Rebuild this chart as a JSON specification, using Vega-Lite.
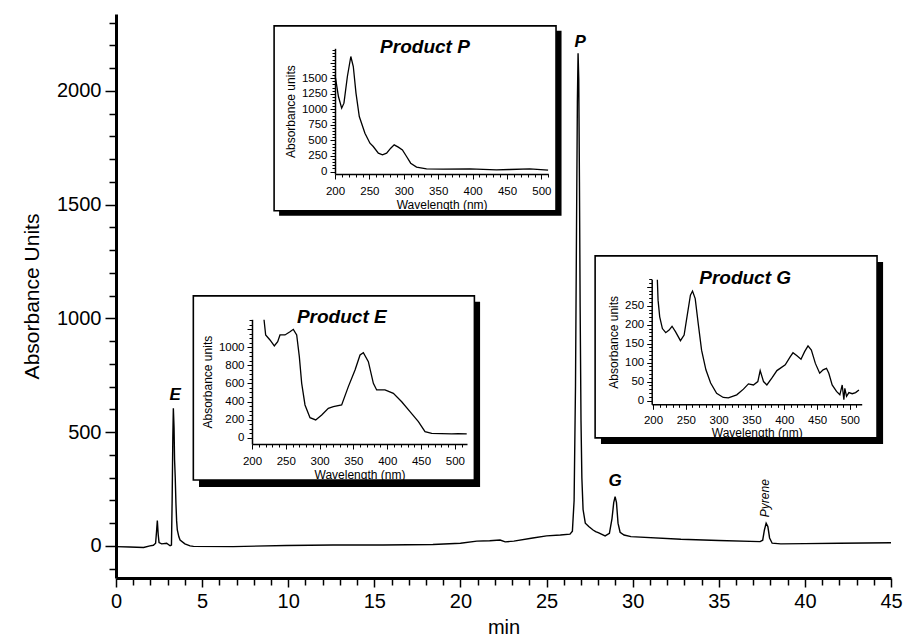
{
  "$schema": "https://vega.github.io/schema/vega-lite/v6.json",
  "width": 775,
  "height": 564,
  "autosize": {"type": "none"},
  "padding": {"left": 116, "top": 14, "right": 13, "bottom": 65},
  "background": "white",
  "config": {
    "view": {"stroke": null},
    "font": "Liberation Sans",
    "axis": {
      "grid": false,
      "domainColor": "black",
      "tickColor": "black",
      "labelColor": "black",
      "titleColor": "black",
      "labelFont": "Liberation Sans",
      "titleFont": "Liberation Sans",
      "titleFontWeight": "normal",
      "labelOverlap": false,
      "labelFlush": false,
      "labelBound": false,
      "format": "d"
    }
  },
  "datasets": {
    "chrom": [
      {"t": 0, "a": -3}, {"t": 0.8, "a": -5}, {"t": 1.6, "a": -7}, {"t": 1.97, "a": 0},
      {"t": 2.17, "a": 3}, {"t": 2.3, "a": 12}, {"t": 2.35, "a": 60}, {"t": 2.4, "a": 112},
      {"t": 2.45, "a": 50}, {"t": 2.5, "a": 15}, {"t": 2.65, "a": 9}, {"t": 2.94, "a": 12},
      {"t": 3.14, "a": 1}, {"t": 3.22, "a": 4}, {"t": 3.26, "a": 200}, {"t": 3.3, "a": 480},
      {"t": 3.33, "a": 605}, {"t": 3.37, "a": 520}, {"t": 3.4, "a": 380}, {"t": 3.44, "a": 300},
      {"t": 3.48, "a": 188}, {"t": 3.52, "a": 110}, {"t": 3.56, "a": 70}, {"t": 3.65, "a": 40},
      {"t": 3.72, "a": 26}, {"t": 4.0, "a": 9}, {"t": 4.3, "a": 0}, {"t": 4.5, "a": -2},
      {"t": 6.8, "a": -3}, {"t": 9.9, "a": 2}, {"t": 12.6, "a": 4}, {"t": 15.5, "a": 4},
      {"t": 18.4, "a": 6}, {"t": 20.0, "a": 12}, {"t": 20.95, "a": 21}, {"t": 21.7, "a": 23},
      {"t": 22.3, "a": 26}, {"t": 22.6, "a": 18}, {"t": 23.1, "a": 21}, {"t": 24.2, "a": 35},
      {"t": 25.0, "a": 44}, {"t": 25.8, "a": 48}, {"t": 26.36, "a": 52}, {"t": 26.5, "a": 65},
      {"t": 26.6, "a": 200}, {"t": 26.68, "a": 700}, {"t": 26.74, "a": 1400}, {"t": 26.79, "a": 1950},
      {"t": 26.83, "a": 2165}, {"t": 26.87, "a": 2050}, {"t": 26.91, "a": 1600}, {"t": 26.95, "a": 1050},
      {"t": 27.0, "a": 550}, {"t": 27.05, "a": 300}, {"t": 27.12, "a": 160}, {"t": 27.25, "a": 100},
      {"t": 27.45, "a": 85}, {"t": 27.7, "a": 70}, {"t": 27.85, "a": 63}, {"t": 28.0, "a": 58},
      {"t": 28.4, "a": 44}, {"t": 28.65, "a": 55}, {"t": 28.8, "a": 120}, {"t": 28.9, "a": 190},
      {"t": 28.98, "a": 217}, {"t": 29.06, "a": 190}, {"t": 29.15, "a": 100}, {"t": 29.27, "a": 60},
      {"t": 29.5, "a": 48}, {"t": 29.9, "a": 41}, {"t": 32.8, "a": 29}, {"t": 35.0, "a": 24},
      {"t": 37.4, "a": 19}, {"t": 37.55, "a": 25}, {"t": 37.65, "a": 70}, {"t": 37.75, "a": 100},
      {"t": 37.85, "a": 85}, {"t": 37.95, "a": 35}, {"t": 38.1, "a": 12}, {"t": 38.6, "a": 9},
      {"t": 40, "a": 10}, {"t": 42, "a": 12}, {"t": 45, "a": 14}
    ],
    "peaks": [
      {"t": 3.43, "a": 664, "label": "E"},
      {"t": 26.95, "a": 2217, "label": "P"},
      {"t": 28.98, "a": 287, "label": "G"}
    ],
    "pyrene": [{"t": 37.69, "a": 210, "label": "Pyrene"}],
    "titles": [
      {"t": 17.94, "a": 2195, "label": "Product P"},
      {"t": 13.11, "a": 1008, "label": "Product E"},
      {"t": 36.53, "a": 1178, "label": "Product G"}
    ],
    "shadows": [
      {"x1": 9.47, "x2": 25.87, "y1": 2264, "y2": 1451},
      {"x1": 4.82, "x2": 21.14, "y1": 1073, "y2": 259},
      {"x1": 28.16, "x2": 44.54, "y1": 1248, "y2": 448}
    ],
    "boxes": [
      {"x1": 9.18, "x2": 25.55, "y1": 2286, "y2": 1473},
      {"x1": 4.49, "x2": 20.81, "y1": 1099, "y2": 290},
      {"x1": 27.82, "x2": 44.19, "y1": 1275, "y2": 475}
    ],
    "specP": [
      {"nm": 200, "abs": 1553}, {"nm": 205, "abs": 1205}, {"nm": 209.7, "abs": 1018}, {"nm": 213, "abs": 1098},
      {"nm": 218, "abs": 1527}, {"nm": 223, "abs": 1848}, {"nm": 226.6, "abs": 1687}, {"nm": 230.5, "abs": 1259},
      {"nm": 235.3, "abs": 884}, {"nm": 243.5, "abs": 616}, {"nm": 250.8, "abs": 455}, {"nm": 255.6, "abs": 402},
      {"nm": 263, "abs": 295}, {"nm": 269, "abs": 268}, {"nm": 275, "abs": 295}, {"nm": 281, "abs": 375},
      {"nm": 286, "abs": 429}, {"nm": 292, "abs": 391}, {"nm": 298, "abs": 348}, {"nm": 304, "abs": 241},
      {"nm": 310, "abs": 134}, {"nm": 318.5, "abs": 70}, {"nm": 333, "abs": 43}, {"nm": 357, "abs": 37},
      {"nm": 396, "abs": 43}, {"nm": 434.7, "abs": 27}, {"nm": 454, "abs": 32}, {"nm": 483, "abs": 43},
      {"nm": 509.7, "abs": 21}
    ],
    "specE": [
      {"nm": 217.8, "abs": 1305}, {"nm": 220.2, "abs": 1137}, {"nm": 226.6, "abs": 1081}, {"nm": 233.0, "abs": 1015},
      {"nm": 238.0, "abs": 1063}, {"nm": 241.4, "abs": 1137}, {"nm": 248.8, "abs": 1137}, {"nm": 256.2, "abs": 1173},
      {"nm": 261.1, "abs": 1199}, {"nm": 266.1, "abs": 1137}, {"nm": 270.0, "abs": 897}, {"nm": 273.5, "abs": 601},
      {"nm": 278.4, "abs": 362}, {"nm": 285.8, "abs": 221}, {"nm": 294.2, "abs": 196}, {"nm": 303.1, "abs": 251},
      {"nm": 312.9, "abs": 325}, {"nm": 320.3, "abs": 343}, {"nm": 332.6, "abs": 362}, {"nm": 342.5, "abs": 565},
      {"nm": 352.4, "abs": 749}, {"nm": 359.8, "abs": 915}, {"nm": 364.7, "abs": 941}, {"nm": 372.1, "abs": 841},
      {"nm": 379.5, "abs": 601}, {"nm": 384.4, "abs": 528}, {"nm": 396.7, "abs": 528}, {"nm": 409.1, "abs": 491},
      {"nm": 421.4, "abs": 398}, {"nm": 433.7, "abs": 288}, {"nm": 446.1, "abs": 177}, {"nm": 455.9, "abs": 66},
      {"nm": 465.8, "abs": 48}, {"nm": 480, "abs": 44}, {"nm": 495.4, "abs": 41}, {"nm": 505, "abs": 44}, {"nm": 517.6, "abs": 41}
    ],
    "specG": [
      {"nm": 206.6, "abs": 319}, {"nm": 207.7, "abs": 265}, {"nm": 210.2, "abs": 221}, {"nm": 214.3, "abs": 190},
      {"nm": 219.4, "abs": 179}, {"nm": 224.5, "abs": 186}, {"nm": 229, "abs": 196}, {"nm": 234.2, "abs": 182},
      {"nm": 241.8, "abs": 158}, {"nm": 247.4, "abs": 173}, {"nm": 252.6, "abs": 230}, {"nm": 257, "abs": 278},
      {"nm": 260.2, "abs": 289}, {"nm": 264.3, "abs": 269}, {"nm": 268.9, "abs": 203}, {"nm": 274, "abs": 133},
      {"nm": 280.6, "abs": 81}, {"nm": 287.8, "abs": 46}, {"nm": 296.9, "abs": 19}, {"nm": 307, "abs": 8},
      {"nm": 314.8, "abs": 7}, {"nm": 327.6, "abs": 15}, {"nm": 337.8, "abs": 30}, {"nm": 345.4, "abs": 44},
      {"nm": 353, "abs": 41}, {"nm": 359.7, "abs": 50}, {"nm": 363.3, "abs": 79}, {"nm": 368.4, "abs": 50},
      {"nm": 373.5, "abs": 41}, {"nm": 381, "abs": 59}, {"nm": 388.8, "abs": 79}, {"nm": 401.5, "abs": 94},
      {"nm": 409.2, "abs": 116}, {"nm": 413.3, "abs": 126}, {"nm": 419.4, "abs": 118}, {"nm": 425.5, "abs": 109},
      {"nm": 431, "abs": 129}, {"nm": 436.2, "abs": 144}, {"nm": 441.3, "abs": 133}, {"nm": 447.4, "abs": 98},
      {"nm": 454, "abs": 72}, {"nm": 459.2, "abs": 81}, {"nm": 464.3, "abs": 85}, {"nm": 467.9, "abs": 72},
      {"nm": 473, "abs": 41}, {"nm": 479.6, "abs": 24}, {"nm": 484.7, "abs": 15}, {"nm": 488.3, "abs": 41},
      {"nm": 490.8, "abs": 2}, {"nm": 492.3, "abs": 32}, {"nm": 494.9, "abs": 11}, {"nm": 498.5, "abs": 21},
      {"nm": 503.6, "abs": 18}, {"nm": 508.7, "abs": 21}, {"nm": 513.8, "abs": 28}
    ]
  },
  "layer": [
    {
      "data": {"name": "chrom"},
      "mark": {"type": "line", "color": "black", "strokeWidth": 1.4},
      "encoding": {
        "x": {
          "field": "t", "type": "quantitative",
          "scale": {"domain": [0, 45], "nice": false, "zero": false},
          "axis": {
            "orient": "bottom", "zindex": 1,
            "title": "min",
            "values": [0,1,2,3,4,5,6,7,8,9,10,11,12,13,14,15,16,17,18,19,20,21,22,23,24,25,26,27,28,29,30,31,32,33,34,35,36,37,38,39,40,41,42,43,44,45],
            "labelExpr": "datum.value % 5 === 0 ? datum.label : ''",
            "tickSize": {"condition": {"test": "datum.value % 5 === 0", "value": 9}, "value": 7},
            "labelFontSize": 20, "titleFontSize": 20,
            "domainWidth": 3, "tickWidth": 1.5,
            "labelPadding": 4, "titlePadding": 6
          }
        },
        "y": {
          "field": "a", "type": "quantitative",
          "scale": {"domain": [-141, 2338], "nice": false, "zero": false},
          "axis": {
            "orient": "left", "zindex": 1,
            "title": "Absorbance Units",
            "values": [-100,0,100,200,300,400,500,600,700,800,900,1000,1100,1200,1300,1400,1500,1600,1700,1800,1900,2000,2100,2200,2300],
            "labelExpr": "datum.value % 500 === 0 ? datum.label : ''",
            "tickSize": {"condition": {"test": "datum.value % 500 === 0", "value": 11}, "value": 7},
            "labelFontSize": 20, "titleFontSize": 21,
            "domainWidth": 3, "tickWidth": 1.5,
            "labelPadding": 4, "titlePadding": 14
          }
        }
      }
    },
    {
      "data": {"name": "peaks"},
      "mark": {"type": "text", "font": "Liberation Sans", "fontSize": 17, "fontWeight": "bold", "fontStyle": "italic", "color": "black", "baseline": "middle", "align": "center"},
      "encoding": {
        "x": {"field": "t", "type": "quantitative", "scale": {"domain": [0, 45], "nice": false, "zero": false}, "axis": null},
        "y": {"field": "a", "type": "quantitative", "scale": {"domain": [-141, 2338], "nice": false, "zero": false}, "axis": null},
        "text": {"field": "label"}
      }
    },
    {
      "data": {"name": "pyrene"},
      "mark": {"type": "text", "font": "Liberation Sans", "fontSize": 12, "fontStyle": "italic", "color": "black", "baseline": "middle", "align": "center", "angle": 270},
      "encoding": {
        "x": {"field": "t", "type": "quantitative", "scale": {"domain": [0, 45], "nice": false, "zero": false}, "axis": null},
        "y": {"field": "a", "type": "quantitative", "scale": {"domain": [-141, 2338], "nice": false, "zero": false}, "axis": null},
        "text": {"field": "label"}
      }
    },
    {
      "data": {"name": "shadows"},
      "mark": {"type": "rect", "color": "black"},
      "encoding": {
        "x": {"field": "x1", "type": "quantitative", "scale": {"domain": [0, 45], "nice": false, "zero": false}, "axis": null},
        "x2": {"field": "x2"},
        "y": {"field": "y1", "type": "quantitative", "scale": {"domain": [-141, 2338], "nice": false, "zero": false}, "axis": null},
        "y2": {"field": "y2"}
      }
    },
    {
      "data": {"name": "boxes"},
      "mark": {"type": "rect", "fill": "white", "stroke": "black", "strokeWidth": 1.6},
      "encoding": {
        "x": {"field": "x1", "type": "quantitative", "scale": {"domain": [0, 45], "nice": false, "zero": false}, "axis": null},
        "x2": {"field": "x2"},
        "y": {"field": "y1", "type": "quantitative", "scale": {"domain": [-141, 2338], "nice": false, "zero": false}, "axis": null},
        "y2": {"field": "y2"}
      }
    },
    {
      "data": {"name": "titles"},
      "mark": {"type": "text", "font": "Liberation Sans", "fontSize": 19, "fontWeight": "bold", "fontStyle": "italic", "color": "black", "baseline": "middle", "align": "center"},
      "encoding": {
        "x": {"field": "t", "type": "quantitative", "scale": {"domain": [0, 45], "nice": false, "zero": false}, "axis": null},
        "y": {"field": "a", "type": "quantitative", "scale": {"domain": [-141, 2338], "nice": false, "zero": false}, "axis": null},
        "text": {"field": "label"}
      }
    },
    {
      "data": {"name": "specP"},
      "mark": {"type": "line", "color": "black", "strokeWidth": 1.3},
      "encoding": {
        "x": {
          "field": "nm", "type": "quantitative",
          "scale": {"domain": [200, 510], "range": [219, 432.3], "nice": false, "zero": false},
          "axis": {
            "orient": "bottom", "offset": -404, "zindex": 1,
            "title": "Wavelength (nm)",
            "values": [200,210,220,230,240,250,260,270,280,290,300,310,320,330,340,350,360,370,380,390,400,410,420,430,440,450,460,470,480,490,500,510],
            "labelExpr": "datum.value % 50 === 0 ? datum.label : ''",
            "tickSize": {"condition": {"test": "datum.value % 50 === 0", "value": 5}, "value": 3},
            "labelFontSize": 11.5, "titleFontSize": 12,
            "domainWidth": 1.5, "tickWidth": 1, "labelPadding": 6, "titlePadding": 3
          }
        },
        "y": {
          "field": "abs", "type": "quantitative",
          "scale": {"domain": [-40, 1980], "range": [160, 34.3], "nice": false, "zero": false},
          "axis": {
            "orient": "left", "offset": -219, "zindex": 1,
            "title": "Absorbance units",
            "values": [0,50,100,150,200,250,300,350,400,450,500,550,600,650,700,750,800,850,900,950,1000,1050,1100,1150,1200,1250,1300,1350,1400,1450,1500,1550,1600,1650,1700,1750,1800,1850,1900,1950],
            "labelExpr": "datum.value % 250 === 0 && datum.value <= 1500 ? datum.label : ''",
            "tickSize": {"condition": {"test": "datum.value % 250 === 0", "value": 5}, "value": 3},
            "labelFontSize": 11.5, "titleFontSize": 12,
            "domainWidth": 1.5, "tickWidth": 1, "labelPadding": 3, "titlePadding": 4
          }
        }
      }
    },
    {
      "data": {"name": "specE"},
      "mark": {"type": "line", "color": "black", "strokeWidth": 1.3},
      "encoding": {
        "x": {
          "field": "nm", "type": "quantitative",
          "scale": {"domain": [200, 518], "range": [136, 351], "nice": false, "zero": false},
          "axis": {
            "orient": "bottom", "offset": -134, "zindex": 1,
            "title": "Wavelength (nm)",
            "values": [200,210,220,230,240,250,260,270,280,290,300,310,320,330,340,350,360,370,380,390,400,410,420,430,440,450,460,470,480,490,500,510],
            "labelExpr": "datum.value % 50 === 0 ? datum.label : ''",
            "tickSize": {"condition": {"test": "datum.value % 50 === 0", "value": 5}, "value": 3},
            "labelFontSize": 11.5, "titleFontSize": 12,
            "domainWidth": 1.5, "tickWidth": 1, "labelPadding": 6, "titlePadding": 3
          }
        },
        "y": {
          "field": "abs", "type": "quantitative",
          "scale": {"domain": [-70, 1310], "range": [430, 305.3], "nice": false, "zero": false},
          "axis": {
            "orient": "left", "offset": -136, "zindex": 1,
            "title": "Absorbance units",
            "values": [0,50,100,150,200,250,300,350,400,450,500,550,600,650,700,750,800,850,900,950,1000,1050,1100,1150,1200,1250,1300],
            "labelExpr": "datum.value % 200 === 0 && datum.value <= 1000 ? datum.label : ''",
            "tickSize": {"condition": {"test": "datum.value % 200 === 0", "value": 5}, "value": 3},
            "labelFontSize": 11.5, "titleFontSize": 12,
            "domainWidth": 1.5, "tickWidth": 1, "labelPadding": 3, "titlePadding": 4
          }
        }
      }
    },
    {
      "data": {"name": "specG"},
      "mark": {"type": "line", "color": "black", "strokeWidth": 1.3},
      "encoding": {
        "x": {
          "field": "nm", "type": "quantitative",
          "scale": {"domain": [198, 518], "range": [535.7, 745.7], "nice": false, "zero": false},
          "axis": {
            "orient": "bottom", "offset": -173.7, "zindex": 1,
            "title": "Wavelength (nm)",
            "values": [200,210,220,230,240,250,260,270,280,290,300,310,320,330,340,350,360,370,380,390,400,410,420,430,440,450,460,470,480,490,500,510],
            "labelExpr": "datum.value % 50 === 0 ? datum.label : ''",
            "tickSize": {"condition": {"test": "datum.value % 50 === 0", "value": 5}, "value": 3},
            "labelFontSize": 11.5, "titleFontSize": 12,
            "domainWidth": 1.5, "tickWidth": 1, "labelPadding": 5, "titlePadding": 2
          }
        },
        "y": {
          "field": "abs", "type": "quantitative",
          "scale": {"domain": [-10, 320], "range": [390.3, 265.3], "nice": false, "zero": false},
          "axis": {
            "orient": "left", "offset": -535.7, "zindex": 1,
            "title": "Absorbance units",
            "values": [0,10,20,30,40,50,60,70,80,90,100,110,120,130,140,150,160,170,180,190,200,210,220,230,240,250,260,270,280,290,300,310,320],
            "labelExpr": "datum.value % 50 === 0 && datum.value <= 250 ? datum.label : ''",
            "tickSize": {"condition": {"test": "datum.value % 50 === 0", "value": 5}, "value": 3},
            "labelFontSize": 11.5, "titleFontSize": 12,
            "domainWidth": 1.5, "tickWidth": 1, "labelPadding": 3, "titlePadding": 4
          }
        }
      }
    }
  ],
  "resolve": {"scale": {"x": "independent", "y": "independent"}}
}
